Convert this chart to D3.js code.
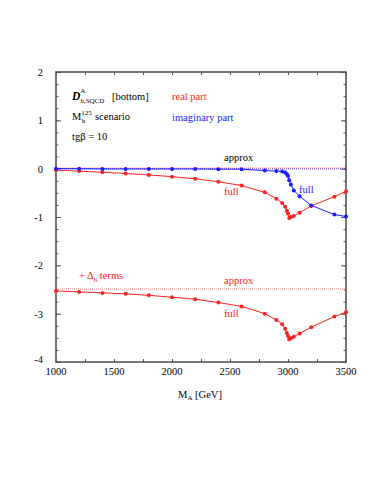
<!DOCTYPE html>
<html>
<head>
<meta charset="utf-8">
<script src="https://cdn.jsdelivr.net/npm/d3@7"></script>
<style>
  body { margin: 0; background: #fff; }
</style>
</head>
<body>
<div id="chart"></div>
<script>
// M_A values (GeV) shared by all full curves
const massA = [1000, 1200, 1400, 1600, 1800, 2000, 2200, 2400, 2600, 2800, 2900,
  2950, 2975, 2990, 3000, 3010, 3025, 3050, 3100, 3200, 3400, 3500];
const realFull = [-0.03, -0.05, -0.075, -0.10, -0.13, -0.165, -0.21, -0.27, -0.35, -0.49, -0.62,
  -0.71, -0.79, -0.87, -0.93, -1.02, -1.00, -0.98, -0.91, -0.77, -0.58, -0.47];
const imagFull = [0, 0, -0.005, -0.005, -0.005, -0.005, -0.005, -0.01, -0.01, -0.04, -0.05,
  -0.06, -0.08, -0.11, -0.15, -0.24, -0.33, -0.45, -0.57, -0.76, -0.95, -0.99];
const deltaFull = [-2.53, -2.55, -2.57, -2.59, -2.62, -2.66, -2.70, -2.77, -2.85, -3.00, -3.13,
  -3.22, -3.31, -3.40, -3.46, -3.53, -3.51, -3.48, -3.41, -3.28, -3.06, -2.97];

// approx lines (constant)
const approxX = [1000, 3500];
const realApprox = [0.01, 0.01];
const imagApprox = [-0.005, -0.005];
const deltaApprox = [-2.49, -2.49];

const xTicks = [1000, 1500, 2000, 2500, 3000, 3500];
const yTicks = [2, 1, 0, -1, -2, -3, -4];

const red = '#ff2020';
const blue = '#1a1aff';
const serif = '"Liberation Serif", "Times New Roman", "DejaVu Serif", serif';

const W = 383, H = 495;
const margin = { top: 72, right: 37, bottom: 133, left: 56 };
const width = W - margin.left - margin.right;
const height = H - margin.top - margin.bottom;

const svg = d3.select('#chart').append('svg')
  .attr('width', W).attr('height', H)
  .attr('font-family', serif);
const g = svg.append('g')
  .attr('transform', 'translate(' + margin.left + ',' + margin.top + ')');

const x = d3.scaleLinear().domain([1000, 3500]).range([0, width]);
const y = d3.scaleLinear().domain([-4, 2]).range([height, 0]);

// ticks on all four sides, pointing inward
const minorX = d3.range(1000, 3501, 250);
const minorY = d3.range(-4, 2.001, 0.25);
const frameColor = '#555';

function tickAxis(axisFn, scale, vals, size) {
  return axisFn(scale).tickValues(vals).tickSize(size).tickFormat('');
}
g.append('g').attr('transform', 'translate(0,' + height + ')')
  .call(tickAxis(d3.axisTop, x, minorX, 3));
g.append('g').call(tickAxis(d3.axisBottom, x, minorX, 3));
g.append('g').call(tickAxis(d3.axisRight, y, minorY, 2.5));
g.append('g').call(tickAxis(d3.axisRight, y, yTicks, 5));
g.append('g').attr('transform', 'translate(' + width + ',0)')
  .call(tickAxis(d3.axisLeft, y, minorY, 2.5));
g.append('g').attr('transform', 'translate(' + width + ',0)')
  .call(tickAxis(d3.axisLeft, y, yTicks, 5));
g.selectAll('.domain').remove();
g.selectAll('.tick line').attr('stroke', frameColor).attr('stroke-width', 1);

g.append('rect')
  .attr('width', width).attr('height', height)
  .attr('fill', 'none').attr('stroke', frameColor).attr('stroke-width', 1.6);

// tick labels
g.selectAll('.xlab').data(xTicks).enter().append('text')
  .attr('x', d => x(d)).attr('y', height + 13)
  .attr('text-anchor', 'middle').attr('font-size', 10.5).text(d => d);
g.selectAll('.ylab').data(yTicks).enter().append('text')
  .attr('x', -13).attr('y', d => y(d) + (d === -4 ? 1 : 4))
  .attr('text-anchor', 'end').attr('font-size', 10.5).text(d => d);

// axis title
const xt = svg.append('text').attr('x', 200).attr('y', 398)
  .attr('text-anchor', 'middle').attr('font-size', 10.5);
xt.append('tspan').text('M');
xt.append('tspan').attr('font-size', 7).attr('dy', 2).text('A');
xt.append('tspan').attr('dy', -2).text(' [GeV]');

// curves
const line = d3.line().x(d => x(d[0])).y(d => y(d[1]));
function dotted(xs, ys, color) {
  g.append('path').datum(xs.map((v, i) => [v, ys[i]]))
    .attr('d', line).attr('fill', 'none').attr('stroke', color)
    .attr('stroke-width', 1.2).attr('stroke-dasharray', '1,1').attr('opacity', 0.55);
}
function full(ys, color) {
  const pts = massA.map((v, i) => [v, ys[i]]);
  g.append('path').datum(pts).attr('d', line)
    .attr('fill', 'none').attr('stroke', color).attr('stroke-width', 1);
  g.selectAll(null).data(pts).enter().append('circle')
    .attr('cx', d => x(d[0])).attr('cy', d => y(d[1])).attr('r', 2)
    .attr('fill', color);
}
dotted(approxX, realApprox, red);
dotted(approxX, imagApprox, blue);
dotted(approxX, deltaApprox, red);
full(realFull, red);
full(imagFull, blue);
full(deltaFull, red);

// labels
function label(txt, px, py, color) {
  return svg.append('text').attr('x', px).attr('y', py)
    .attr('font-size', 10.5).attr('fill', color).text(txt);
}
const dl = svg.append('text').attr('x', 72).attr('y', 100).attr('font-size', 10.5);
dl.append('tspan').attr('font-weight', 'bold').attr('font-style', 'italic')
  .attr('font-size', 11.5).text('D');
dl.append('tspan').attr('font-size', 7).attr('dy', -7).text('A');
dl.append('tspan').attr('font-size', 7).attr('dx', -5).attr('dy', 10).text('b,SQCD');
label('[bottom]', 112, 100, '#000');
label('real part', 172, 100, red);

const ml = svg.append('text').attr('x', 72).attr('y', 120).attr('font-size', 10.5);
ml.append('tspan').text('M');
ml.append('tspan').attr('font-size', 7).attr('dy', -5).text('125');
ml.append('tspan').attr('font-size', 7).attr('dx', -10).attr('dy', 8).text('h');
ml.append('tspan').attr('dx', 7).attr('dy', -3).text(' scenario');
label('imaginary part', 172, 121, blue);
label('tgβ = 10', 72, 140, '#000');

label('approx', 224, 161, '#000');
label('full', 224, 195, red);
label('full', 299, 193, blue);

const dt = svg.append('text').attr('x', 79).attr('y', 279)
  .attr('font-size', 10.5).attr('fill', red);
dt.append('tspan').text('+ Δ');
dt.append('tspan').attr('font-size', 7).attr('dy', 3).text('b');
dt.append('tspan').attr('dy', -3).text(' terms');
label('approx', 224, 284, red);
label('full', 224, 317, red);
</script>
</body>
</html>
